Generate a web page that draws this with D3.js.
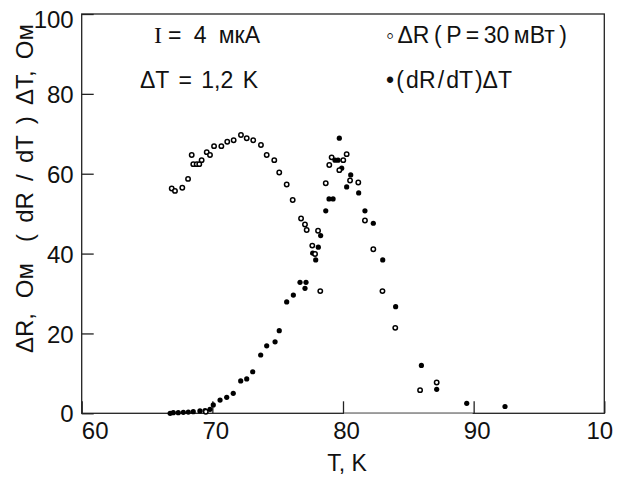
<!DOCTYPE html>
<html>
<head>
<meta charset="utf-8">
<script src="https://cdn.jsdelivr.net/npm/d3@7"></script>
<style>
  body { margin: 0; background: #fff; }
  svg text { font-family: "Liberation Sans", Arial, Helvetica, sans-serif; fill: #111; }
</style>
</head>
<body>
<svg id="chart" width="625" height="479"></svg>
<script>
// ΔR (P = 30 мВт) -- open circles
var tOpen = [66.89, 67.14, 67.70, 68.14, 68.42, 68.54, 68.80, 69.00, 69.18, 69.57,
             69.82, 70.13, 70.69, 71.14, 71.63, 72.19, 72.63, 73.13, 73.72, 74.16,
             74.74, 75.12, 75.69, 76.15, 76.79, 77.09, 77.22, 77.65, 77.86, 78.09,
             78.26, 78.68, 78.95, 79.13, 79.72, 80.02, 80.28, 80.54, 81.17, 81.68,
             82.32, 83.02, 84.00, 85.90, 87.17, 69.50];
var dROpen = [56.3, 55.7, 56.5, 58.7, 64.7, 62.4, 62.4, 62.4, 63.4, 65.4,
              64.7, 66.9, 66.9, 68.0, 68.4, 69.7, 68.9, 68.4, 67.2, 64.7,
              63.4, 60.3, 57.3, 53.4, 48.8, 47.3, 45.9, 42.0, 39.9, 45.7,
              30.6, 57.6, 62.2, 64.1, 60.9, 63.4, 64.9, 58.3, 57.8, 48.3,
              41.1, 30.6, 21.4, 5.8, 7.7, 0.4];

// (dR/dT)ΔT -- filled circles
var tFilled = [66.77, 67.01, 67.39, 67.78, 68.16, 68.54, 69.05, 69.44, 69.82, 70.07,
               70.59, 71.10, 71.60, 72.17, 72.63, 73.09, 73.70, 74.16, 74.80, 75.12,
               75.69, 76.20, 76.71, 77.17, 77.09, 77.68, 77.91, 78.11, 78.29, 78.68,
               78.93, 79.24, 79.72, 79.39, 79.62, 79.90, 80.59, 80.28, 81.20, 81.68,
               82.32, 83.04, 84.03, 86.00, 87.17, 89.47, 92.40];
var dRFilled = [0.0, 0.15, 0.15, 0.25, 0.3, 0.4, 0.6, 0.65, 1.0, 2.1,
                3.3, 4.0, 5.0, 8.1, 8.6, 10.4, 14.6, 16.9, 17.9, 20.7,
                27.9, 29.6, 32.8, 32.8, 31.3, 40.1, 38.4, 41.6, 44.5, 50.7,
                53.7, 53.7, 68.9, 63.4, 63.4, 61.4, 59.7, 56.7, 55.2, 50.7,
                47.6, 38.4, 26.7, 12.0, 6.0, 2.5, 1.7];

var xTicks = [60, 70, 80, 90, 100];
var yTicks = [0, 20, 40, 60, 80, 100];

var svg = d3.select("#chart");
var mLeft = 81.7, mRight = 604.3, mTop = 14, mBottom = 413.3;

var x = d3.scaleLinear().domain([60, 100]).range([mLeft, mRight]);
var y = d3.scaleLinear().domain([0, 100]).range([mBottom, mTop]);

// stretch the gaps between words so a text fills the given width
function fitWords(sel, target) {
  var node = sel.node();
  var natural = node.getComputedTextLength();
  var gaps = (sel.text().match(/ /g) || []).length;
  if (gaps) sel.style("word-spacing", ((target - natural) / gaps) + "px");
  return sel;
}

// x axis (ticks pointing inward)
var gx = svg.append("g")
    .attr("transform", "translate(0," + mBottom + ")")
    .call(d3.axisBottom(x).tickValues(xTicks).tickSizeInner(-12).tickSizeOuter(0).tickPadding(9)
      .tickFormat(function(d) { return d === 100 ? "10" : d; }));
gx.select(".domain").remove();
gx.selectAll(".tick line").attr("stroke", "#222").attr("stroke-width", 1.3);
gx.selectAll(".tick text")
    .style("font-size", "24px")
    .attr("dx", function(d) { return d === 60 ? 13 : (d === 100 ? -5 : 3); });

// y axis
var gy = svg.append("g")
    .attr("transform", "translate(" + mLeft + ",0)")
    .call(d3.axisLeft(y).tickValues(yTicks).tickSizeInner(-12).tickSizeOuter(0).tickPadding(8));
gy.select(".domain").remove();
gy.selectAll(".tick line").attr("stroke", "#222").attr("stroke-width", 1.3);
gy.selectAll(".tick text")
    .style("font-size", "24px")
    .attr("dy", function(d) { return d === 100 ? "0.55em" : "0.36em"; });

// frame
svg.append("rect")
    .attr("x", mLeft).attr("y", mTop)
    .attr("width", mRight - mLeft).attr("height", mBottom - mTop)
    .attr("fill", "none").attr("stroke", "#222").attr("stroke-width", 1.3);
svg.append("line")
    .attr("x1", x(80) + 1).attr("x2", x(90) - 1)
    .attr("y1", mBottom).attr("y2", mBottom)
    .attr("stroke", "#999").attr("stroke-width", 1.5);

// data
svg.append("g").selectAll("circle")
    .data(d3.zip(tFilled, dRFilled))
  .enter().append("circle")
    .attr("cx", function(d) { return x(d[0]); })
    .attr("cy", function(d) { return y(d[1]); })
    .attr("r", 2.6)
    .attr("fill", "#000");

svg.append("g").selectAll("circle")
    .data(d3.zip(tOpen, dROpen))
  .enter().append("circle")
    .attr("cx", function(d) { return x(d[0]); })
    .attr("cy", function(d) { return y(d[1]); })
    .attr("r", 2.2)
    .attr("fill", "#fff")
    .attr("stroke", "#000")
    .attr("stroke-width", 1.5);

// legend / annotations
var ann = svg.append("g").style("font-size", "23px");
ann.append("text").attr("x", 154).attr("y", 43)
    .style("font-family", "'Liberation Serif', 'Times New Roman', serif")
    .style("font-size", "24px")
    .text("I");
fitWords(ann.append("text").attr("x", 168).attr("y", 43).text("= 4 мкА"), 92);
fitWords(ann.append("text").attr("x", 140).attr("y", 88).text("ΔT = 1,2 K"), 118);
fitWords(ann.append("text").attr("x", 386).attr("y", 43).text("◦ ΔR ( P = 30 мВт )"), 181);
fitWords(ann.append("text").attr("x", 386).attr("y", 88).text("• ( dR / dT )ΔT"), 126);

// axis titles
svg.append("text")
    .attr("x", 347).attr("y", 471)
    .attr("text-anchor", "middle")
    .style("font-size", "23px")
    .text("T, K");
fitWords(svg.append("text")
    .attr("transform", "translate(33,353) rotate(-90)")
    .style("font-size", "24px")
    .text("ΔR, Ом"), 90);
fitWords(svg.append("text")
    .attr("transform", "translate(33,24) rotate(-90)")
    .attr("text-anchor", "end")
    .style("font-size", "24px")
    .text("( dR / dT ) ΔT, Ом"), 218);
</script>
</body>
</html>
